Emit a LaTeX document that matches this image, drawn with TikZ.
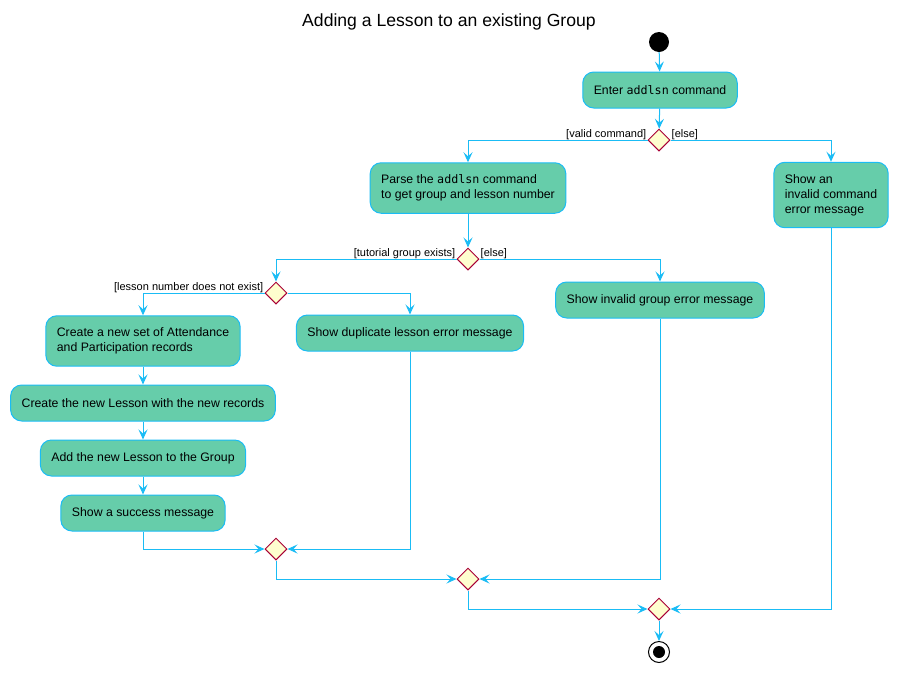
\documentclass[tikz,border=0pt]{standalone}
\usepackage{fontspec}
\setmainfont{Liberation Sans}
\setmonofont{DejaVu Sans Mono}
\usetikzlibrary{arrows.meta,shapes.geometric}
\definecolor{flowblue}{HTML}{1ABCF5}
\definecolor{actfill}{HTML}{66CDAA}
\definecolor{decfill}{HTML}{FEFECE}
\definecolor{decline}{HTML}{A80036}
\newcommand{\cmdtt}[1]{{\ttfamily\fontsize{11.7}{15}\selectfont #1}}
\begin{document}
\begin{tikzpicture}[x=1pt,y=-1pt,
    activity/.style={draw=flowblue,fill=actfill,line width=1pt,rounded corners=11pt,
        align=left,inner xsep=11pt,inner ysep=12pt,minimum height=36pt,
        font=\fontsize{12.3}{15}\selectfont},
    decision/.style={diamond,draw=decline,fill=decfill,line width=1pt,inner sep=0pt,
        minimum width=22pt,minimum height=22pt},
    guard/.style={font=\fontsize{11}{12}\selectfont,inner xsep=1pt,inner ysep=0.3pt},
    flow/.style={draw=flowblue,line width=1pt,-{Stealth[length=10pt,width=9pt,inset=4pt]}}]
    \useasboundingbox (0,0) rectangle (898,673);
    \node [font=\fontsize{17.6}{20}\selectfont] (title) at (449,22) {Adding a Lesson to an existing Group};
    \node [circle,fill=black,minimum size=20pt,inner sep=0pt] (start) at (659,42) {};
    \node [activity] (enter) at (660,90) {Enter \cmdtt{addlsn} command};
    \node [decision] (valid) at (659,140) {};
    \node [guard,anchor=south east] at (valid.west) {[valid command]};
    \node [guard,anchor=south west] at (valid.east) {[else]};
    \node [activity] (parse) at (468,188) {Parse the \cmdtt{addlsn} command\\to get group and lesson number};
    \node [activity] (badcmd) at (831,195) {Show an\\invalid command\\error message};
    \node [decision] (group) at (468,259) {};
    \node [guard,anchor=south east] at (group.west) {[tutorial group exists]};
    \node [guard,anchor=south west] at (group.east) {[else]};
    \node [activity] (badgroup) at (660,300) {Show invalid group error message};
    \node [decision] (lesson) at (276,293) {};
    \node [guard,anchor=south east] at (lesson.west) {[lesson number does not exist]};
    \node [activity] (records) at (143,341) {Create a new set of Attendance\\and Participation records};
    \node [activity] (duplicate) at (410,333) {Show duplicate lesson error message};
    \node [activity] (create) at (143,403) {Create the new Lesson with the new records};
    \node [activity] (addto) at (143,458) {Add the new Lesson to the Group};
    \node [activity] (success) at (143,513) {Show a success message};
    \node [decision] (mergea) at (276,549) {};
    \node [decision] (mergeb) at (468,579) {};
    \node [decision] (mergec) at (659,609) {};
    \node [circle,draw=black,fill=white,line width=1pt,minimum size=21pt,inner sep=0pt] (stop) at (659,652) {};
    \fill (stop.center) circle (6pt);
    \draw [flow] (start) -- (enter);
    \draw [flow] (enter) -- (valid);
    \draw [flow] (valid.west) -| (parse.north);
    \draw [flow] (valid.east) -| (badcmd.north);
    \draw [flow] (parse) -- (group);
    \draw [flow] (group.west) -| (lesson.north);
    \draw [flow] (group.east) -| (badgroup.north);
    \draw [flow] (lesson.west) -| (records.north);
    \draw [flow] (lesson.east) -| (duplicate.north);
    \draw [flow] (records) -- (create);
    \draw [flow] (create) -- (addto);
    \draw [flow] (addto) -- (success);
    \draw [flow] (success.south) |- (mergea.west);
    \draw [flow] (duplicate.south) |- (mergea.east);
    \draw [flow] (mergea.south) |- (mergeb.west);
    \draw [flow] (badgroup.south) |- (mergeb.east);
    \draw [flow] (mergeb.south) |- (mergec.west);
    \draw [flow] (badcmd.south) |- (mergec.east);
    \draw [flow] (mergec) -- (stop);
\end{tikzpicture}
\end{document}
